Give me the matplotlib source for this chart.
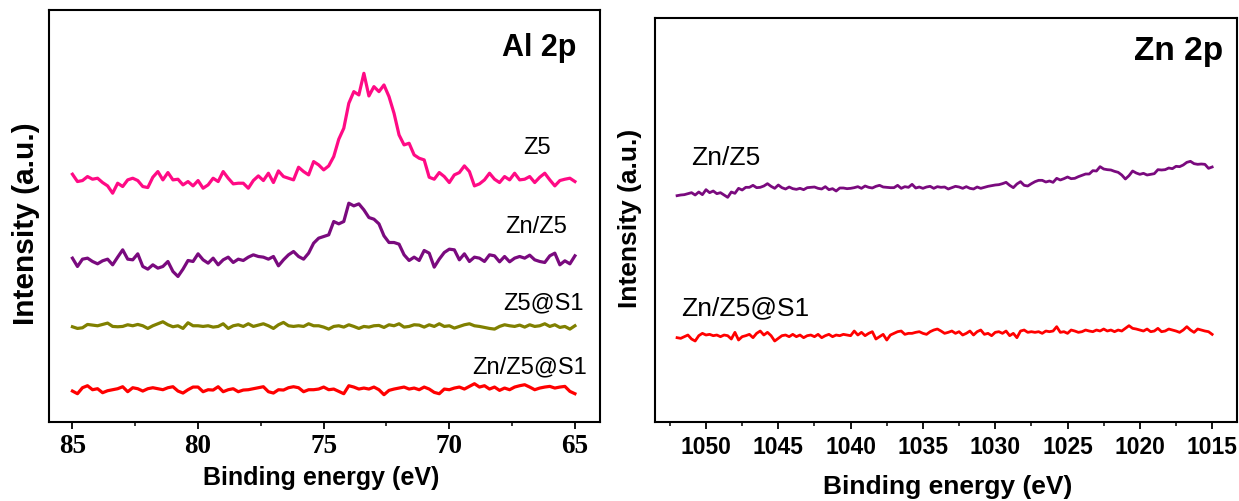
import numpy as np
import matplotlib.pyplot as plt

plt.rcParams['font.family'] = ['Liberation Sans', 'DejaVu Sans']

# binding energy grids (eV), evenly sampled scans
al_energy = np.linspace(85, 65, 101)
zn_energy = np.linspace(1052, 1015, 149)

# Al 2p intensities (a.u., offset stacked)
al_z5 = [743, 721, 724, 736, 728, 731, 718, 708, 686, 716, 706, 726, 731, 724, 706, 703, 734,
         751, 726, 748, 726, 728, 711, 721, 708, 724, 701, 711, 731, 721, 751, 731, 714, 716,
         716, 701, 724, 738, 724, 746, 718, 753, 736, 731, 726, 764, 751, 741, 781, 771, 756,
         768, 796, 848, 881, 956, 991, 981, 1046, 978, 1006, 991, 1011, 976, 926, 861, 831,
         836, 801, 791, 786, 734, 728, 748, 736, 718, 741, 748, 768, 751, 708, 714, 726, 746,
         728, 718, 736, 726, 746, 726, 728, 736, 718, 734, 746, 726, 708, 724, 728, 731, 721]
al_zn_z5 = [491, 466, 488, 491, 481, 474, 483, 488, 471, 494, 516, 488, 486, 504, 466, 458, 471,
            461, 466, 481, 451, 436, 458, 484, 481, 504, 486, 476, 491, 471, 486, 494, 478, 488,
            484, 494, 501, 496, 494, 488, 496, 468, 486, 501, 511, 496, 488, 506, 536, 551, 556,
            561, 601, 594, 601, 656, 648, 654, 636, 613, 608, 594, 558, 538, 538, 533, 501, 484,
            494, 484, 514, 506, 464, 488, 508, 518, 516, 486, 504, 481, 494, 491, 481, 501, 498,
            480, 496, 480, 491, 496, 491, 500, 486, 481, 478, 498, 506, 471, 483, 474, 498]
al_z5_s1 = [285, 280, 282, 292, 290, 288, 292, 296, 286, 285, 286, 291, 288, 292, 288, 280, 288,
            294, 300, 291, 285, 288, 280, 297, 288, 288, 286, 288, 284, 286, 294, 280, 288, 291,
            286, 294, 286, 290, 294, 288, 280, 291, 298, 288, 286, 288, 286, 294, 288,
            288, 284, 278, 286, 288, 284, 291, 286, 280, 286, 284, 288, 289, 283, 291, 288, 294,
            284, 286, 291, 290, 284, 291, 286, 294, 286, 288, 281, 286, 291, 294, 288, 286, 283,
            280, 278, 286, 291, 288, 286, 290, 284, 291, 286, 288, 294, 286, 291, 283, 286, 278, 288]
al_zn_z5_s1 = [92, 84, 102, 108, 96, 99, 87, 93, 96, 99, 105, 90, 102, 99, 92, 99, 102, 99, 96,
               102, 105, 92, 86, 96, 104, 104, 90, 96, 95, 105, 90, 96, 99, 90, 95, 96, 99, 102,
               105, 90, 86, 96, 95, 102, 105, 102, 90, 96, 96,
               98, 104, 96, 98, 91, 84, 108, 104, 98, 101, 98, 104, 96, 81, 94, 98, 101, 104, 98,
               101, 96, 104, 98, 88, 84, 98, 96, 101, 104, 98, 106, 114, 104, 108, 98, 104, 94,
               101, 96, 104, 108, 111, 104, 96, 101, 104, 106, 101, 104, 106, 91, 84]

# Zn 2p intensities (a.u., offset stacked)
zn_zn_z5 = [678, 680, 681, 684, 687, 680, 689, 681, 696, 687, 692, 684, 687, 680, 673, 689, 685,
            700, 695, 703, 703, 709, 702, 703, 707, 714, 706, 700, 710, 702, 698, 704, 699, 697,
            700, 696, 702, 703, 704, 700, 698, 705, 696, 699, 692, 701, 701, 699, 700, 702, 705,
            700, 707, 703, 701, 706, 709, 704, 703, 702, 702, 709, 700, 705, 703, 712, 701, 704,
            700, 704, 706, 700, 705, 703, 704,
            698, 702, 706, 704, 700, 705, 700, 698, 704, 700, 703, 706, 708, 710, 711, 714, 718,
            709, 702, 713, 720, 709, 707, 714, 720, 724, 724, 719, 722, 718, 730, 725, 729, 734,
            729, 730, 735, 739, 743, 743, 753, 752, 765, 758, 756, 755, 751, 748, 740, 728, 738,
            752, 746, 742, 745, 740, 742, 744, 756, 755, 756, 761, 759, 766, 765, 770, 778, 781,
            774, 772, 773, 772, 760, 764]
zn_zn_z5_s1 = [252, 250, 255, 260, 248, 242, 258, 265, 260, 262, 258, 260, 255, 260, 258, 248,
               268, 245, 255, 258, 262, 252, 265, 272, 260, 268, 258, 242, 250, 258, 260, 255,
               262, 255, 260, 252, 258, 260, 255, 262, 252, 258, 262, 255, 260, 258, 262, 260,
               258, 272, 260, 268, 258, 265, 270, 248, 255, 262, 245, 260, 265, 270, 272, 262,
               265, 265, 268, 270, 265, 262, 270, 275, 278, 272, 265, 268, 272, 265, 270, 260,
               265, 272, 260, 270, 275, 262, 265, 258, 268, 270, 265, 272, 258, 265, 252, 272,
               275, 268, 270, 268, 270, 265, 272, 270, 272, 285, 268, 270, 265, 275, 272, 268,
               270, 275, 272, 270, 275, 272, 278, 272, 275, 270, 275, 272, 280, 288, 280, 278,
               275, 272, 278, 270, 272, 280, 270, 272, 278, 275, 272, 268, 275, 285, 275, 268,
               278, 275, 272, 270, 262]

al_series = [("Z5", al_z5, "#ff0a85"), ("Zn/Z5", al_zn_z5, "#7a0a7e"),
             ("Z5@S1", al_z5_s1, "#808000"), ("Zn/Z5@S1", al_zn_z5_s1, "#ff0000")]
zn_series = [("Zn/Z5", zn_zn_z5, "#7a0a7e"), ("Zn/Z5@S1", zn_zn_z5_s1, "#ff0000")]

fig = plt.figure(figsize=(12.39, 5.01), dpi=100)
ax1 = fig.add_axes([0.0392, 0.1583, 0.4451, 0.8217])
ax2 = fig.add_axes([0.5285, 0.1583, 0.4699, 0.8058])

for name, vals, col in al_series:
    ax1.plot(al_energy, vals, color=col, lw=2.3)
for name, vals, col in zn_series:
    ax2.plot(zn_energy, vals, color=col, lw=2.0)

ax1.set_xlim(85.95, 64.0)
ax1.set_ylim(0, 1236)
ax1.set_xticks([85, 80, 75, 70, 65])
ax1.set_xticks([82.5, 77.5, 72.5, 67.5], minor=True)

ax2.set_xlim(1053.54, 1013.28)
ax2.set_ylim(0, 1211)
ax2.set_xticks([1050, 1045, 1040, 1035, 1030, 1025, 1020, 1015])
ax2.set_xticks([1052.5, 1047.5, 1042.5, 1037.5, 1032.5, 1027.5, 1022.5, 1017.5], minor=True)

for ax in (ax1, ax2):
    ax.set_yticks([])
    for s in ax.spines.values():
        s.set_linewidth(1.5)
    ax.tick_params(axis='x', which='major', direction='out', length=5, width=1.3)
    ax.tick_params(axis='x', which='minor', direction='out', length=3, width=1.1)
    ax.set_xlabel("Binding energy (eV)", fontweight='bold')
    ax.set_ylabel("Intensity (a.u.)", fontweight='bold')
    ax.xaxis.label.set_va('center')
    ax.yaxis.label.set_va('center')

ax1.tick_params(axis='x', which='major', pad=4)
for lbl in ax1.get_xticklabels():
    lbl.set_fontfamily('Liberation Serif')
    lbl.set_fontweight('bold')
    lbl.set_fontsize(19.5)
ax2.tick_params(axis='x', which='major', pad=5)
for lbl in ax2.get_xticklabels():
    lbl.set_fontweight('bold')
    lbl.set_fontsize(16.5)

ax1.xaxis.label.set_fontsize(18)
ax2.xaxis.label.set_fontsize(19)
ax1.yaxis.label.set_fontsize(21.5)
ax2.yaxis.label.set_fontsize(19)
ax1.xaxis.set_label_coords(0.494, -0.137)
ax2.xaxis.set_label_coords(0.5036, -0.162)
ax1.yaxis.set_label_coords(-0.041, 0.48)
ax2.yaxis.set_label_coords(-0.0426, 0.5046)

# panel titles and curve labels
ax1.text(0.889, 0.907, "Al 2p", transform=ax1.transAxes, fontsize=22, fontweight='bold',
         ha='center', va='center')
ax2.text(0.899, 0.916, "Zn 2p", transform=ax2.transAxes, fontsize=24, fontweight='bold',
         ha='center', va='center')

al_label_pos = [(0.885, 0.665), (0.884, 0.473), (0.897, 0.288), (0.873, 0.133)]
for (name, vals, col), (x, y) in zip(al_series, al_label_pos):
    ax1.text(x, y, name, transform=ax1.transAxes, fontsize=17, ha='center', va='center')

zn_label_pos = [(0.1216, 0.653), (0.156, 0.2817)]
for (name, vals, col), (x, y) in zip(zn_series, zn_label_pos):
    ax2.text(x, y, name, transform=ax2.transAxes, fontsize=19, ha='center', va='center')

fig.savefig("out.png", dpi=100)
